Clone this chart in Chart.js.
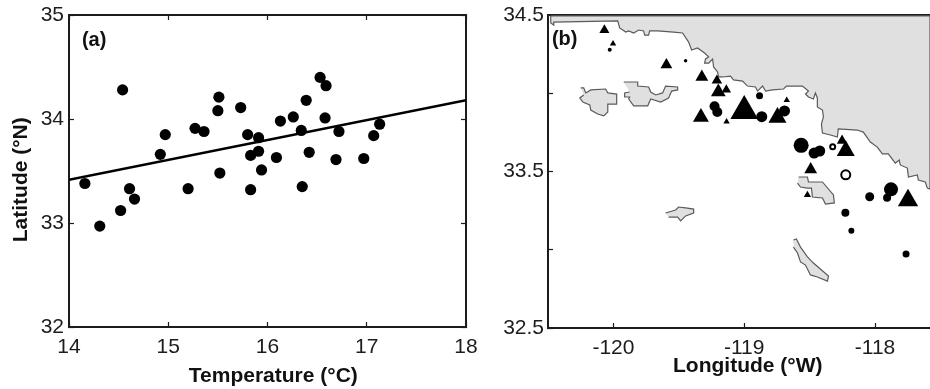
<!DOCTYPE html>
<html>
<head>
<meta charset="utf-8">
<title>Latitude vs temperature</title>
<script src="https://cdn.jsdelivr.net/npm/chart.js@4"></script>
<style>
  html, body { margin: 0; padding: 0; background: #fff; }
  #wrap { position: relative; width: 930px; height: 389px; overflow: hidden; }
  canvas { position: absolute; top: 0; }
  #chartA { left: 0; }
  #chartB { left: 480px; }
</style>
</head>
<body>
<div id="wrap">
  <canvas id="chartA" width="480" height="389"></canvas>
  <canvas id="chartB" width="450" height="389"></canvas>
</div>
<script>
// panel (a)
var tempTicks = [14, 15, 16, 17, 18];
var latTicksA = [32, 33, 34, 35];
var tempValues = [14.16, 14.31, 14.52, 14.54, 14.61, 14.66, 14.92, 14.97, 15.20, 15.27, 15.36, 15.51, 15.50, 15.52, 15.73, 15.80, 15.83, 15.83, 15.91, 15.91, 15.94, 16.09, 16.13, 16.26, 16.34, 16.35, 16.39, 16.42, 16.53, 16.59, 16.58, 16.72, 16.69, 16.97, 17.07, 17.13];
var latValues = [33.38, 32.97, 33.12, 34.28, 33.33, 33.23, 33.66, 33.85, 33.33, 33.91, 33.88, 34.21, 34.08, 33.48, 34.11, 33.85, 33.65, 33.32, 33.82, 33.69, 33.51, 33.63, 33.98, 34.02, 33.89, 33.35, 34.18, 33.68, 34.40, 34.32, 34.01, 33.88, 33.61, 33.62, 33.84, 33.95];
var fitTemp = [14, 18];
var fitLat = [33.415, 34.18];

// panel (b)
var lonTicks = [-120, -119, -118];
var latTicksB = [32.5, 33, 33.5, 34, 34.5];
var latLabelsB = [32.5, 33.5, 34.5];

var triLon = [-120.069, -120.003, -119.595, -119.324, -119.209, -119.198, -119.137, -119.331, -119.135, -119.000, -118.675, -118.746, -118.252, -118.224, -118.492, -118.517, -117.748];
var triLat = [34.404, 34.317, 34.181, 34.104, 34.081, 34.008, 34.023, 33.847, 33.819, 33.887, 33.956, 33.845, 33.697, 33.633, 33.513, 33.350, 33.315];
var triSize = [5.8, 3.7, 6.8, 7.4, 6.1, 8.5, 5.5, 9.2, 3.7, 16, 3.7, 10.4, 6.1, 10.4, 7.4, 4.2, 11.7];

var dotLon = [-120.028, -119.448, -119.227, -119.206, -118.866, -118.883, -118.692, -118.565, -118.466, -118.423, -117.878, -117.908, -118.041, -118.227, -118.181, -117.763];
var dotLat = [34.278, 34.208, 33.917, 33.880, 33.850, 33.984, 33.887, 33.667, 33.618, 33.631, 33.386, 33.333, 33.339, 33.237, 33.122, 32.973];
var dotSize = [2, 1.7, 5, 5, 5.5, 3.5, 5.5, 7.5, 5.5, 5.5, 7, 4, 4.5, 4, 3, 3.5];

var openLon = [-118.324, -118.224];
var openLat = [33.658, 33.479];
var openSize = [2.5, 4.5];

var coastLon = [-120.479, -120.479, -120.456, -120.456, -119.967, -119.952, -119.906, -119.883, -119.845, -119.807, -119.769, -119.761, -119.731, -119.723, -119.662, -119.540, -119.471, -119.425, -119.402, -119.357, -119.303, -119.272, -119.296, -119.303, -119.272, -119.242, -119.234, -119.204, -119.196, -119.165, -119.105, -119.082, -119.013, -118.975, -118.914, -118.898, -118.860, -118.837, -118.784, -118.700, -118.677, -118.555, -118.509, -118.532, -118.509, -118.471, -118.456, -118.441, -118.441, -118.402, -118.395, -118.410, -118.402, -118.341, -118.288, -118.281, -118.136, -118.090, -118.036, -117.983, -117.944, -117.899, -117.845, -117.815, -117.807, -117.753, -117.745, -117.677, -117.669, -117.616, -117.600, -117.58, -117.58, -120.479];
var coastLat = [34.494, 34.449, 34.436, 34.455, 34.462, 34.417, 34.391, 34.398, 34.385, 34.404, 34.398, 34.372, 34.372, 34.398, 34.398, 34.391, 34.385, 34.327, 34.276, 34.289, 34.257, 34.232, 34.219, 34.193, 34.193, 34.219, 34.168, 34.136, 34.104, 34.104, 34.110, 34.085, 34.078, 34.046, 34.040, 34.014, 34.046, 34.014, 34.021, 34.027, 34.046, 34.046, 34.014, 33.995, 33.976, 33.963, 34.002, 33.970, 33.912, 33.893, 33.848, 33.803, 33.746, 33.733, 33.720, 33.772, 33.765, 33.752, 33.688, 33.656, 33.612, 33.612, 33.554, 33.573, 33.542, 33.522, 33.465, 33.478, 33.446, 33.433, 33.394, 33.388, 34.494, 34.494];

var isle1Lon = [-120.250, -120.227, -120.211, -120.173, -120.059, -120.043, -119.975, -119.975, -120.043, -120.043, -120.074, -120.120, -120.173, -120.181, -120.234, -120.257, -120.227];
var isle1Lat = [34.034, 34.034, 34.002, 34.021, 34.027, 34.002, 33.995, 33.931, 33.931, 33.880, 33.855, 33.867, 33.893, 33.925, 33.944, 33.970, 33.989];

var isle2Lon = [-119.921, -119.814, -119.814, -119.731, -119.715, -119.677, -119.624, -119.601, -119.509, -119.509, -119.555, -119.578, -119.639, -119.715, -119.738, -119.845, -119.883, -119.876, -119.914, -119.914, -119.876];
var isle2Lat = [34.072, 34.072, 34.046, 34.040, 34.008, 33.989, 34.002, 34.046, 34.040, 34.021, 34.014, 33.970, 33.944, 33.963, 33.919, 33.919, 33.963, 33.976, 33.976, 34.002, 34.008];

var isle3Lon = [-119.601, -119.524, -119.502, -119.448, -119.387, -119.387, -119.448, -119.486, -119.509, -119.578];
var isle3Lat = [33.235, 33.254, 33.273, 33.267, 33.260, 33.235, 33.216, 33.184, 33.209, 33.209];

var isle4Lon = [-118.585, -118.517, -118.509, -118.494, -118.402, -118.318, -118.311, -118.379, -118.402, -118.479, -118.486, -118.517, -118.570, -118.593];
var isle4Lat = [33.465, 33.465, 33.433, 33.433, 33.433, 33.350, 33.299, 33.292, 33.331, 33.337, 33.394, 33.394, 33.401, 33.426];

var isle5Lon = [-118.624, -118.601, -118.570, -118.517, -118.471, -118.356, -118.364, -118.441, -118.494, -118.532, -118.570, -118.593, -118.624];
var isle5Lat = [33.062, 33.069, 33.017, 32.954, 32.915, 32.832, 32.800, 32.826, 32.839, 32.902, 32.922, 32.979, 33.017];

var ink = '#1c1c1c';
var tickFont = { family: '"Liberation Sans", Arial, sans-serif', size: 21 };
var titleFont = { family: '"Liberation Sans", Arial, sans-serif', size: 21, weight: 'bold' };
var nbsp = '\u00a0';

function toPoints(xs, ys) {
  return xs.map(function (x, i) {
    return { x: x, y: ys[i] };
  });
}

function landDataset(xs, ys) {
  return {
    type: 'line',
    data: toPoints(xs, ys),
    borderColor: '#5a5a5a',
    borderWidth: 1.2,
    backgroundColor: '#e0e0e0',
    pointRadius: 0,
    tension: 0,
    fill: 'shape'
  };
}

// axes : ticks inside the box (negative tickLength), fixed size so the box lands where it should
function axis(position, min, max, tickList, size, extra) {
  var opts = {
    type: 'linear',
    position: position,
    min: min,
    max: max,
    afterBuildTicks: function (scale) {
      scale.ticks = tickList.map(function (v) { return { value: v }; });
    },
    afterFit: function (scale) {
      if (scale.isHorizontal()) { scale.height = size; } else { scale.width = size; }
      // tick labels may hang over the box, no extra room for them
      scale.paddingLeft = scale.paddingRight = scale.paddingTop = scale.paddingBottom = 0;
    },
    border: { display: true, color: ink, width: 2 },
    grid: { drawOnChartArea: false, drawTicks: true, tickLength: -5, tickWidth: 1.2, color: ink },
    ticks: { display: false }
  };
  return Object.assign(opts, extra || {});
}

function labelled(padding, callback) {
  return {
    display: true,
    color: ink,
    font: tickFont,
    padding: padding,
    autoSkip: false,
    maxRotation: 0,
    callback: callback || function (v) { return String(v); }
  };
}

// panel letter, placed with the data scales
var panelLetter = {
  id: 'panelLetter',
  afterDatasetsDraw: function (chart, args, opts) {
    var ctx = chart.ctx;
    ctx.save();
    ctx.font = 'bold 20px "Liberation Sans", Arial, sans-serif';
    ctx.fillStyle = '#111';
    ctx.textAlign = 'left';
    ctx.textBaseline = 'middle';
    ctx.fillText(opts.text, chart.scales.x.getPixelForValue(opts.x), chart.scales.y.getPixelForValue(opts.y));
    ctx.restore();
  }
};

var baseOptions = {
  responsive: false,
  animation: false,
  plugins: { legend: { display: false }, tooltip: { enabled: false } }
};

new Chart(document.getElementById('chartA').getContext('2d'), {
  type: 'scatter',
  data: {
    datasets: [
      {
        data: toPoints(tempValues, latValues),
        backgroundColor: '#000',
        borderWidth: 0,
        pointRadius: 5.6
      },
      {
        type: 'line',
        data: toPoints(fitTemp, fitLat),
        borderColor: '#000',
        borderWidth: 2.6,
        pointRadius: 0
      }
    ]
  },
  plugins: [panelLetter],
  options: Object.assign({}, baseOptions, {
    layout: { autoPadding: false, padding: { top: 15, right: 14, left: 0, bottom: 0 } },
    plugins: Object.assign({}, baseOptions.plugins, {
      panelLetter: { text: '(a)', x: 14.13, y: 34.755 }
    }),
    scales: {
      x: axis('bottom', 14, 18, tempTicks, 62, {
        ticks: labelled(13),
        title: { display: true, text: nbsp + nbsp + 'Temperature (°C)', color: '#111', font: titleFont, padding: { top: 0, bottom: 0 } }
      }),
      y: axis('left', 32, 35, latTicksA, 69, {
        ticks: labelled(10),
        title: { display: true, text: 'Latitude (°N)' + nbsp + nbsp + nbsp, color: '#111', font: titleFont, padding: { top: 9, bottom: 0 } }
      }),
      x2: axis('top', 14, 18, tempTicks, 0, { axis: 'x' }),
      y2: axis('right', 32, 35, latTicksA, 0, { axis: 'y' })
    }
  })
});

new Chart(document.getElementById('chartB').getContext('2d'), {
  type: 'scatter',
  data: {
    datasets: [
      {
        data: toPoints(openLon, openLat),
        backgroundColor: '#fff',
        borderColor: '#000',
        borderWidth: 2,
        pointRadius: openSize
      },
      {
        data: toPoints(triLon, triLat),
        backgroundColor: '#000',
        borderWidth: 0,
        pointStyle: 'triangle',
        pointRadius: triSize
      },
      {
        data: toPoints(dotLon, dotLat),
        backgroundColor: '#000',
        borderWidth: 0,
        pointRadius: dotSize
      },
      landDataset(isle1Lon, isle1Lat),
      landDataset(isle2Lon, isle2Lat),
      landDataset(isle3Lon, isle3Lat),
      landDataset(isle4Lon, isle4Lat),
      landDataset(isle5Lon, isle5Lat),
      landDataset(coastLon, coastLat)
    ]
  },
  plugins: [panelLetter],
  options: Object.assign({}, baseOptions, {
    layout: { autoPadding: false, padding: { top: 15, right: 0, left: 0, bottom: 0 } },
    plugins: Object.assign({}, baseOptions.plugins, {
      panelLetter: { text: '(b)', x: -120.47, y: 34.345 }
    }),
    scales: {
      x: axis('bottom', -120.5, -117.58, lonTicks, 61, {
        ticks: labelled(13),
        title: { display: true, text: nbsp + nbsp + nbsp + 'Longitude (°W)', color: '#111', font: titleFont, padding: { top: 0, bottom: 10 } }
      }),
      y: axis('left', 32.5, 34.5, latTicksB, 68, {
        ticks: labelled(9, function (v) { return latLabelsB.indexOf(v) >= 0 ? v.toFixed(1) : ''; })
      }),
      x2: axis('top', -120.5, -117.58, lonTicks, 0, { axis: 'x' })
    }
  })
});
</script>
</body>
</html>
